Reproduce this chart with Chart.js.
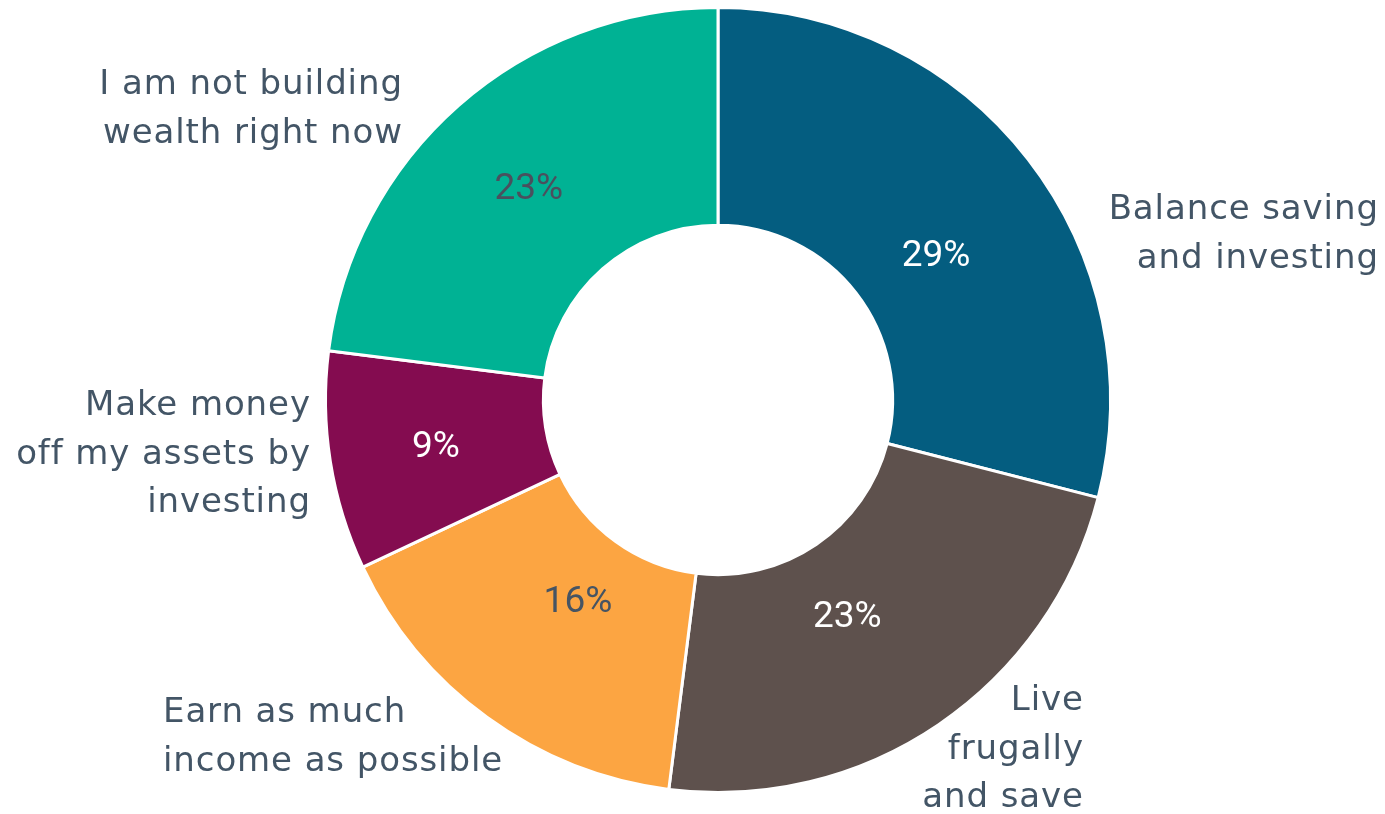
<!DOCTYPE html>
<html>
<head>
<meta charset="utf-8">
<script src="https://cdn.jsdelivr.net/npm/chart.js@4.4.0/dist/chart.umd.min.js"></script>
<style>
  html, body { margin: 0; padding: 0; background: #fff; }
  #chart { display: block; }
</style>
</head>
<body>
<canvas id="chart" width="1385" height="814"></canvas>
<script>
// survey answers, clockwise from 12 o'clock
const categories = [
  ['Balance saving', 'and investing'],
  ['Live', 'frugally', 'and save'],
  ['Earn as much', 'income as possible'],
  ['Make money', 'off my assets by', 'investing'],
  ['I am not building', 'wealth right now']
];
const shares = [29, 23, 16, 9, 23];

const sliceColors = ['#045d80', '#5e514d', '#fca542', '#840c50', '#00b294'];
const valueColors = ['#ffffff', '#ffffff', '#465463', '#ffffff', '#4a505e'];

// where each category name sits: x, first baseline, text alignment
const nameSpots = [
  { x: 1378, y: 219, align: 'right' },
  { x: 1083, y: 710, align: 'right' },
  { x: 163, y: 722, align: 'left' },
  { x: 310, y: 415, align: 'right' },
  { x: 402, y: 94, align: 'right' }
];
// value label placement: share of the ring width out from the hole,
// and a small turn (degrees) away from the slice's middle
const valueRadius = [0.403, 0.350, 0.319, 0.510, 0.506];
const valueTurn = [4.0, 3.2, -1.0, -0.1, -0.2];

const labelPlugin = {
  id: 'sliceLabels',
  afterDatasetsDraw(chart) {
    const ctx = chart.ctx;
    const meta = chart.getDatasetMeta(0);
    ctx.save();
    meta.data.forEach((arc, i) => {
      const { x, y, startAngle, endAngle, innerRadius, outerRadius } = arc.getProps(
        ['x', 'y', 'startAngle', 'endAngle', 'innerRadius', 'outerRadius'], true);
      const mid = (startAngle + endAngle) / 2 + valueTurn[i] * Math.PI / 180;
      const r = innerRadius + (outerRadius - innerRadius) * valueRadius[i];
      ctx.font = '37px Roboto, sans-serif';
      ctx.letterSpacing = '0px';
      ctx.fillStyle = valueColors[i];
      ctx.textAlign = 'center';
      ctx.textBaseline = 'middle';
      ctx.fillText(shares[i] + '%', x + Math.cos(mid) * r, y + Math.sin(mid) * r + 3);

      const spot = nameSpots[i];
      ctx.font = '34px "DejaVu Sans", sans-serif';
      ctx.letterSpacing = '0.9px';
      ctx.fillStyle = '#435566';
      ctx.textAlign = spot.align;
      ctx.textBaseline = 'alphabetic';
      const shift = spot.align === 'right' ? 0.9 : 0;
      categories[i].forEach((line, k) => {
        ctx.fillText(line, spot.x + shift, spot.y + k * 48.5);
      });
    });
    ctx.restore();
  }
};

new Chart(document.getElementById('chart'), {
  type: 'doughnut',
  data: {
    labels: categories.map(c => c.join(' ')),
    datasets: [{
      data: shares,
      backgroundColor: sliceColors,
      borderColor: '#ffffff',
      borderWidth: 3
    }]
  },
  options: {
    responsive: false,
    animation: false,
    cutout: '44.5%',
    layout: { padding: { top: 6, bottom: 20, left: 324, right: 273 } },
    plugins: {
      legend: { display: false },
      tooltip: { enabled: false }
    }
  },
  plugins: [labelPlugin]
});
</script>
</body>
</html>
